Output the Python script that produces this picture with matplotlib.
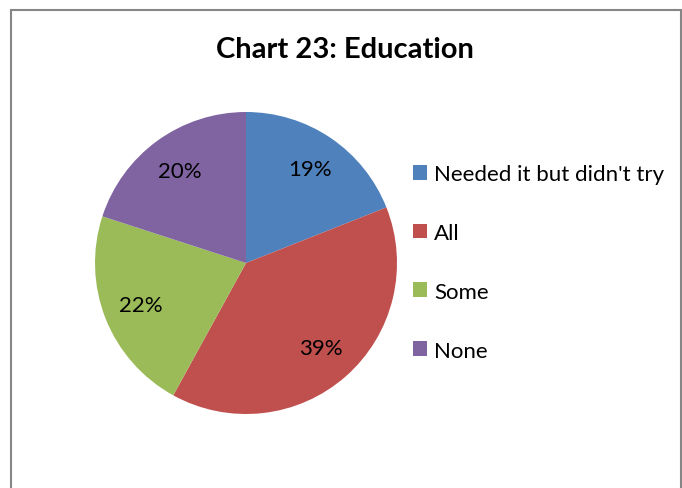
import matplotlib

matplotlib.use("Agg")
import matplotlib.pyplot as plt
from matplotlib.patches import Rectangle, Patch

categories = ["Needed it but didn't try", "All", "Some", "None"]
shares = [19, 39, 22, 20]
colors = ["#4F81BD", "#C0504D", "#9BBB59", "#8064A2"]

plt.rcParams["font.family"] = ["Lato", "DejaVu Sans"]

W, H = 682, 489
fig = plt.figure(figsize=(W / 100, H / 100), dpi=100)

# pie centred at (246, 264) px with radius 151 px
cx, cy, r = 246, 264, 151
ax = fig.add_axes([(cx - r) / W, 1 - (cy + r) / H, 2 * r / W, 2 * r / H])
wedges, _, autotexts = ax.pie(
    shares,
    colors=colors,
    startangle=90,
    counterclock=False,
    autopct="%d%%",
    pctdistance=0.75,
    textprops={"fontsize": 16, "color": "black"},
    wedgeprops={"linewidth": 0},
)
ax.set_xlim(-1, 1)
ax.set_ylim(-1, 1)
ax.set_aspect("equal")

fig.suptitle("Chart 23: Education", x=345 / W, y=1 - 50 / H, va="center",
             fontsize=21, fontweight="bold")

handles = [Patch(facecolor=c, edgecolor="none") for c in colors]
fig.legend(
    handles, categories,
    loc="upper left",
    bbox_to_anchor=(404 / W, 1 - 156 / H),
    frameon=False,
    fontsize=16,
    handlelength=0.65,
    handleheight=0.65,
    handletextpad=0.3,
    labelspacing=1.75,
    borderaxespad=0,
)

# chart frame, its bottom edge runs off the page
fig.patches.append(Rectangle((10.5 / W, -0.1), (681 - 10.5) / W, 1.1 - 10.5 / H,
                             transform=fig.transFigure, fill=False,
                             edgecolor="#868686", linewidth=1.5, clip_on=False))

fig.savefig("out.png", dpi=100)
